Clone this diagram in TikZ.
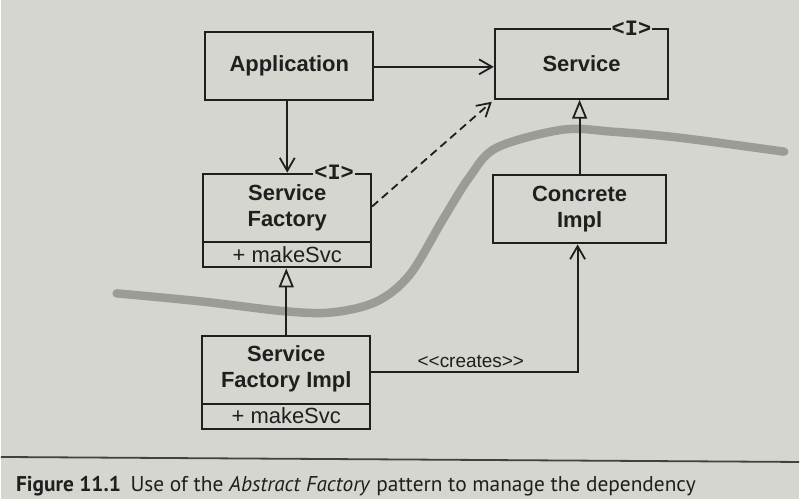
\documentclass[tikz,border=0pt]{standalone}
\usepackage{fontspec}
\usetikzlibrary{arrows.meta}
\newfontfamily\diafont{Liberation Sans}
\newfontfamily\stereofont{Liberation Mono}
\newfontfamily\capfont{PT Sans}
\definecolor{paper}{RGB}{214,214,208}
\definecolor{ink}{RGB}{32,30,30}
\definecolor{swoosh}{RGB}{155,155,152}
\begin{document}
\begin{tikzpicture}[x=1pt,y=-1pt,
  box/.style={draw=ink, line width=2pt, rectangle, inner sep=0pt},
  title/.style={font=\diafont\bfseries\fontsize{22}{26}\selectfont, text=ink, align=center, inner sep=0pt},
  member/.style={font=\diafont\fontsize{22}{26}\selectfont, text=ink, inner sep=0pt},
  stereo/.style={font=\stereofont\bfseries\fontsize{22}{22}\selectfont, text=ink, fill=paper, inner xsep=1pt, inner ysep=1pt},
  conn/.style={draw=ink, line width=1.8pt},
  dep/.style={conn, -{Straight Barb[length=13pt,width=15pt]}},
  inh/.style={conn, -{Triangle[open, length=19pt, width=15pt]}},
  tag/.style={font=\diafont\fontsize{19}{22}\selectfont, text=ink, inner sep=0pt},
]
% paper
\fill[paper] (0,0) rectangle (800,500);

% grey boundary swoosh
\draw[swoosh, line width=8.5pt, line cap=round]
  plot[smooth, tension=0.55] coordinates {(116,294) (200,302) (285,312) (333,313) (377,302) (410,275) (443,220) (470,177) (497,148) (563,130) (613,132) (680,138) (785,152)};

% classes
\node[box, minimum width=168pt, minimum height=68pt] (app) at (289,66) {};
\node[title] at (app.center) {Application};

\node[box, minimum width=174pt, minimum height=70pt] (svc) at (582,64) {};
\node[title] at (svc.center) {Service};
\node[stereo] (svcI) at ([xshift=-38pt]svc.north east) {<I>};

\node[box, minimum width=168pt, minimum height=94pt] (sf) at (287,221) {};
\node[title] at (287,208) {Service\\Factory};
\draw[ink, line width=2pt] ([yshift=26pt]sf.south west) -- ([yshift=26pt]sf.south east);
\node[member] at (287,255) {+ makeSvc};
\node[stereo] (sfI) at ([xshift=-38pt]sf.north east) {<I>};

\node[box, minimum width=174pt, minimum height=69pt] (ci) at (580,209.5) {};
\node[title] at (ci.center) {Concrete\\Impl};

\node[box, minimum width=168pt, minimum height=93pt] (sfi) at (286,383.5) {};
\node[title] at (286,370) {Service\\Factory Impl};
\draw[ink, line width=2pt] ([yshift=26pt]sfi.south west) -- ([yshift=26pt]sfi.south east);
\node[member] at (286,417) {+ makeSvc};

% relations
\draw[dep] ([yshift=-1pt]app.east) -- ([yshift=-1pt]app.east -| svc.west);
\draw[dep] (sf.north |- app.south) -- (sf.north);
\draw[dep, dash pattern=on 8pt off 5pt] ([yshift=14pt]sf.east) -- ([shift={(-2pt,-2pt)}]svc.south west);
\draw[inh] (ci.north) -- (ci.north |- svc.south);
\draw[inh] (sfi.north) -- (sfi.north |- sf.south);
\draw[dep] ([yshift=10.5pt]sfi.east) -| ([xshift=-2pt]ci.south);
\node[tag] (creates) at (471,362) {<<creates>>};

% caption
\draw[ink!85, line width=1.8pt] (0,458) -- (800,463);
\node[anchor=base west, font=\capfont\fontsize{21.4}{25}\selectfont, text=ink, inner sep=0pt] (cap) at (15,493)
  {\textbf{Figure 11.1}\hspace{0.45em}Use of the \textit{Abstract Factory} pattern to manage the dependency};
\end{tikzpicture}
\end{document}
